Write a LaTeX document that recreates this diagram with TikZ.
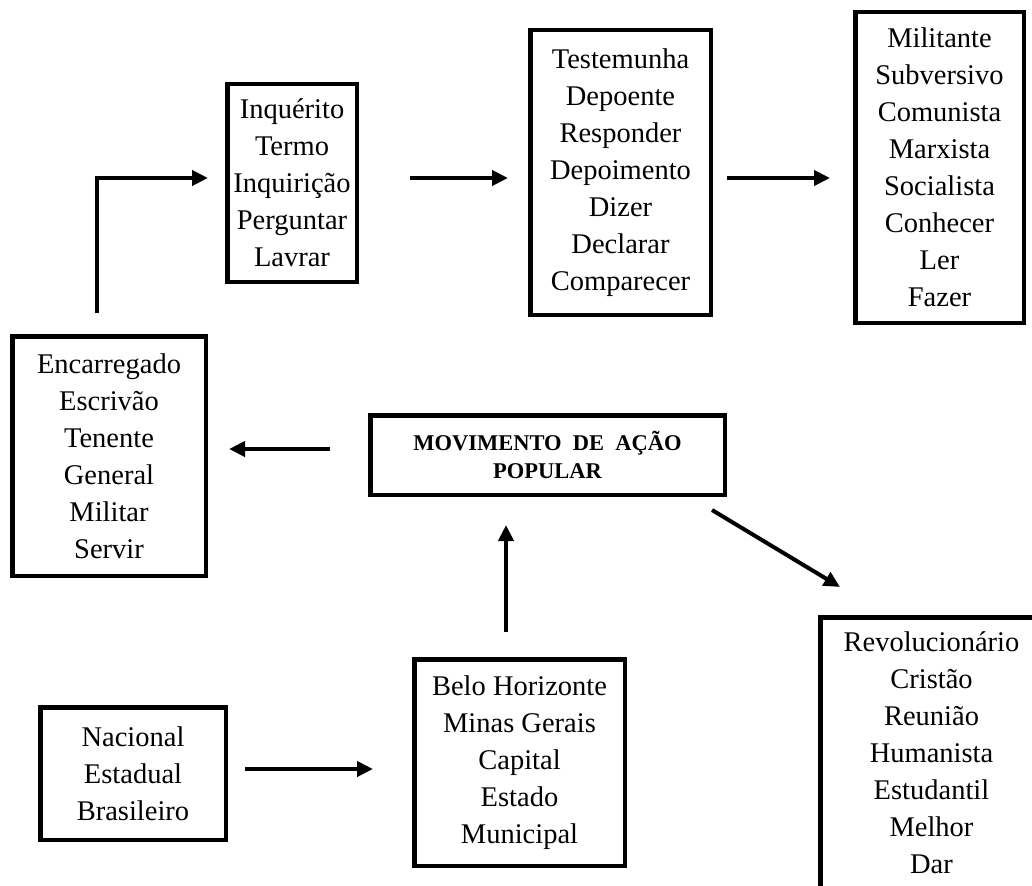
\documentclass[tikz,border=0pt]{standalone}
\usepackage{fontspec}
\setmainfont{Liberation Serif}
\usetikzlibrary{arrows.meta}
\begin{document}
\begin{tikzpicture}[x=1pt,y=-1pt,
  box/.style={draw, line width=4.5pt, align=center, inner sep=0pt, font=\fontsize{28.5}{37}\selectfont},
  titlebox/.style={draw, line width=4.5pt, align=center, inner sep=0pt, font=\bfseries\fontsize{22.5}{28}\selectfont},
  arr/.style={line width=4pt, -{Triangle[length=16pt,width=15pt]}}]
\useasboundingbox (0,0) rectangle (1032,885);
\clip (0,0) rectangle (1032,885);
\node[box, minimum width=129.5pt, minimum height=197.5pt] (inq) at (292,183)
  {Inquérito\\Termo\\Inquirição\\Perguntar\\Lavrar};
\node[box, minimum width=180.5pt, minimum height=284.5pt] (test) at (620.5,172.5)
  {Testemunha\\Depoente\\Responder\\Depoimento\\Dizer\\Declarar\\Comparecer};
\node[box, minimum width=168.5pt, minimum height=310.5pt] (mil) at (939.5,167.5)
  {Militante\\Subversivo\\Comunista\\Marxista\\Socialista\\Conhecer\\Ler\\Fazer};
\node[box, minimum width=193.5pt, minimum height=239.5pt] (enc) at (109,456)
  {Encarregado\\Escrivão\\Tenente\\General\\Militar\\Servir};
\node[titlebox, minimum width=354.5pt, minimum height=79.5pt] (mov) at (547.5,455)
  {MOVIMENTO \ DE \ AÇÃO\\POPULAR};
\node[box, minimum width=222.5pt, minimum height=270.5pt] (rev) at (931.5,752.5)
  {Revolucionário\\Cristão\\Reunião\\Humanista\\Estudantil\\Melhor\\Dar};
\node[box, minimum width=185.5pt, minimum height=132.5pt] (nac) at (133,773.5)
  {Nacional\\Estadual\\Brasileiro};
\node[box, minimum width=210.5pt, minimum height=206.5pt] (belo) at (519.5,762.5)
  {Belo Horizonte\\Minas Gerais\\Capital\\Estado\\Municipal};
\draw[arr, shorten <=21pt, shorten >=17pt] (enc.north -| 97,0) |- (inq.west |- 0,178);
\draw[arr, shorten <=51pt, shorten >=20pt] (inq.east |- 0,178) -- (test.west |- 0,178);
\draw[arr, shorten <=14pt, shorten >=23pt] (test.east |- 0,178) -- (mil.west |- 0,178);
\draw[arr, shorten <=38pt, shorten >=21pt] (mov.west |- 0,449) -- (enc.east |- 0,449);
\draw[arr, shorten <=25pt, shorten >=28pt] (belo.north -| 506,0) -- (mov.south -| 506,0);
\draw[arr, shorten <=17pt, shorten >=39pt] (nac.east |- 0,769) -- (belo.west |- 0,769);
\draw[arr] ([shift={(-15,13)}]mov.south east) -- ([shift={(22,-28)}]rev.north west);
\end{tikzpicture}
\end{document}
